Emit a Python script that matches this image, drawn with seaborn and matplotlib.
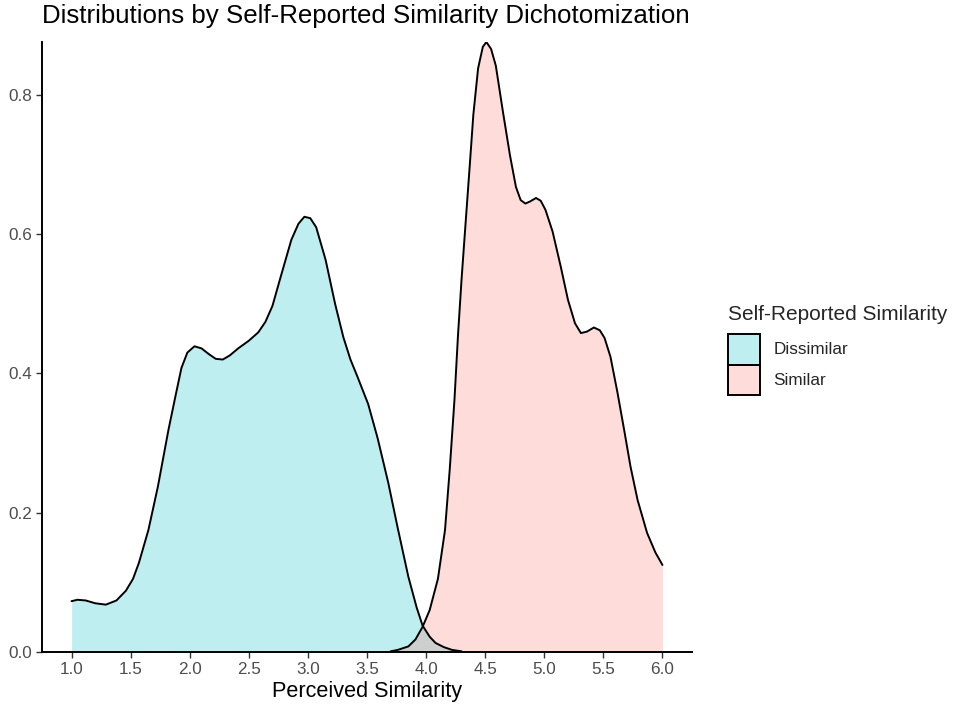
import matplotlib
matplotlib.use("Agg")
import matplotlib.pyplot as plt
import seaborn as sns
import pandas as pd
from matplotlib.patches import Patch

sns.set_theme(style="ticks")
plt.rcParams['font.family'] = ['Liberation Sans', 'DejaVu Sans']

# ---- data (density curves) ----
groups = ["Dissimilar", "Similar"]

dis_x = [1.00, 1.05, 1.12, 1.20, 1.29, 1.38, 1.46, 1.52, 1.57, 1.65, 1.73, 1.82,
         1.88, 1.93, 1.98, 2.04, 2.10, 2.16, 2.22, 2.28, 2.34, 2.41, 2.50, 2.58,
         2.64, 2.70, 2.77, 2.86, 2.92, 2.97, 3.02, 3.07, 3.15, 3.23, 3.30, 3.36, 3.42,
         3.51, 3.59, 3.68, 3.76, 3.85, 3.92, 3.97, 4.03, 4.08, 4.15, 4.22, 4.30]
dis_y = [0.073, 0.075, 0.074, 0.070, 0.068, 0.074, 0.088, 0.105, 0.128, 0.175, 0.237, 0.319,
         0.368, 0.408, 0.430, 0.439, 0.436, 0.428, 0.421, 0.420, 0.426, 0.436, 0.447, 0.459,
         0.474, 0.497, 0.539, 0.592, 0.615, 0.625, 0.623, 0.610, 0.563, 0.500, 0.452, 0.420, 0.395,
         0.356, 0.307, 0.243, 0.178, 0.108, 0.064, 0.038, 0.022, 0.013, 0.007, 0.003, 0.001]

sim_x = [3.70, 3.76, 3.85, 3.91, 3.97, 4.03, 4.10, 4.16, 4.20, 4.24, 4.27, 4.30,
         4.33, 4.37, 4.40, 4.44, 4.48, 4.51, 4.55, 4.59, 4.65, 4.71, 4.76, 4.80,
         4.84, 4.88, 4.93, 4.97, 5.01, 5.07, 5.14, 5.20, 5.26, 5.31, 5.36, 5.42,
         5.47, 5.51, 5.56, 5.62, 5.68, 5.73, 5.79, 5.87, 5.94, 6.00]
sim_y = [0.001, 0.003, 0.008, 0.018, 0.036, 0.060, 0.105, 0.175, 0.262, 0.362, 0.455, 0.535,
         0.606, 0.700, 0.772, 0.838, 0.869, 0.876, 0.866, 0.842, 0.776, 0.713, 0.668, 0.649,
         0.644, 0.647, 0.652, 0.648, 0.635, 0.604, 0.553, 0.506, 0.472, 0.458, 0.460, 0.466,
         0.462, 0.451, 0.424, 0.372, 0.315, 0.266, 0.218, 0.171, 0.143, 0.125]

x_ticks = [1.0, 1.5, 2.0, 2.5, 3.0, 3.5, 4.0, 4.5, 5.0, 5.5, 6.0]
y_ticks = [0.0, 0.2, 0.4, 0.6, 0.8]

df = pd.concat([
    pd.DataFrame({"x": dis_x, "density": dis_y, "group": groups[0]}),
    pd.DataFrame({"x": sim_x, "density": sim_y, "group": groups[1]}),
])

colors = {"Dissimilar": "#00BFC4", "Similar": "#F8766D"}
alpha = 0.25

fig = plt.figure(figsize=(9.58, 7.06), dpi=100)
ax = fig.add_axes([42 / 958, 1 - 652 / 706, 650 / 958, 610 / 706])

for g in groups:
    sub = df[df["group"] == g]
    ax.fill_between(sub["x"], sub["density"], 0, color=colors[g], alpha=alpha, linewidth=0)
    sns.lineplot(data=sub, x="x", y="density", ax=ax, color="black", linewidth=1.4,
                 sort=False, legend=False)

ax.set_xlim(0.75, 6.25)
ax.set_ylim(0, 0.876)
ax.set_xticks(x_ticks)
ax.set_xticklabels([f"{v:.1f}" for v in x_ticks])
ax.set_yticks(y_ticks)
ax.set_yticklabels([f"{v:.1f}" for v in y_ticks])
ax.tick_params(axis="both", colors="#333333", labelcolor="#4D4D4D", labelsize=12.3,
               length=4, width=1.0, pad=3)
for s in ["top", "right"]:
    ax.spines[s].set_visible(False)
for s in ["left", "bottom"]:
    ax.spines[s].set_color("black")
    ax.spines[s].set_linewidth(1.4)
ax.set_xlabel("Perceived Similarity", fontsize=15.6, color="black", labelpad=3)
ax.set_ylabel("")

fig.text(42 / 958, 1 - 4 / 706, "Distributions by Self-Reported Similarity Dichotomization",
         fontsize=18.6, color="black", ha="left", va="top")

handles = [Patch(facecolor=matplotlib.colors.to_rgba(colors[g], alpha), edgecolor="black",
                 linewidth=1.4) for g in groups]
leg = ax.legend(handles, groups, title="Self-Reported Similarity", frameon=False,
                loc="upper left", bbox_to_anchor=(716 / 958, 1 - 293 / 706),
                bbox_transform=fig.transFigure, fontsize=12.3, title_fontsize=15.0,
                handlelength=1.9, handleheight=2.4, labelspacing=0.0,
                handletextpad=0.75, borderpad=0.2, alignment="left")
leg._legend_box.sep = 7

fig.savefig("out.png", dpi=100, facecolor="white")
